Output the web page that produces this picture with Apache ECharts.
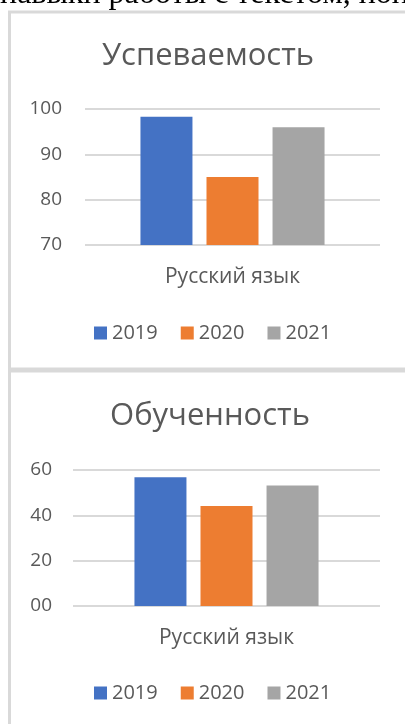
<!DOCTYPE html>
<html>
<head>
<meta charset="utf-8">
<script src="https://cdn.jsdelivr.net/npm/echarts@6/dist/echarts.min.js"></script>
<style>
  html, body { margin: 0; padding: 0; background: #fff; }
  #chart { width: 405px; height: 724px; }
</style>
</head>
<body>
<div id="chart"></div>
<script>
// данные
let categories = ['Русский язык']
let years = ['2019', '2020', '2021']
let colors = ['#4472C4', '#ED7D31', '#A5A5A5']
let uspevaemost = [98.3, 85.0, 96.0]
let obuchennost = [56.8, 44.1, 53.2]
let titles = ['Успеваемость', 'Обученность']
let topText = 'навыки работы с текстом, пон'

let font = '"Open Sans", "Noto Sans", sans-serif'
let gray = '#595959'

// серии для двух графиков
let makeSeries = function (values, index) {
  return years.map((name, i) => ({
    type: 'bar',
    name: name,
    xAxisIndex: index,
    yAxisIndex: index,
    barWidth: 52,
    barGap: '27%',
    itemStyle: { color: colors[i] },
    data: [values[i]]
  }))
}

let makeLegend = function (top) {
  return {
    data: years,
    left: 94,
    top: top,
    icon: 'rect',
    itemWidth: 13,
    itemHeight: 13,
    itemGap: 23,
    padding: 0,
    textStyle: { fontFamily: font, fontSize: 20, color: gray }
  }
}

let el = document.querySelector('#chart')
let chartInstance = echarts.init(el)

let option = {
  animation: false,
  textStyle: { fontFamily: font },
  graphic: [
    // обрезанная строка текста сверху
    {
      type: 'text', x: 0, y: 11,
      style: { text: topText, font: '32px "Liberation Serif", serif', fill: '#000', textVerticalAlign: 'bottom' }
    },
    // рамки
    { type: 'rect', shape: { x: 9.5, y: 12, width: 500, height: 357 }, style: { fill: 'none', stroke: '#d9d9d9', lineWidth: 3 } },
    { type: 'rect', shape: { x: 9.5, y: 371, width: 500, height: 400 }, style: { fill: 'none', stroke: '#d9d9d9', lineWidth: 3 } },
    // заголовки
    {
      type: 'text', x: 208, y: 56,
      style: { text: titles[0], font: '31px ' + font, fill: gray, textAlign: 'center', textVerticalAlign: 'middle' }
    },
    {
      type: 'text', x: 210, y: 416,
      style: { text: titles[1], font: '31px ' + font, fill: gray, textAlign: 'center', textVerticalAlign: 'middle' }
    }
  ],
  grid: [
    { left: 85, right: 25, top: 109, height: 136 },
    { left: 73, right: 25, top: 470, height: 136 }
  ],
  legend: [makeLegend(323), makeLegend(683)],
  xAxis: [0, 1].map(i => ({
    type: 'category',
    gridIndex: i,
    data: categories,
    axisLine: { show: false },
    axisTick: { show: false },
    axisLabel: { margin: 22, fontSize: 21, color: gray, fontFamily: font }
  })),
  yAxis: [
    {
      type: 'value', gridIndex: 0, min: 70, max: 100, interval: 10,
      axisLabel: { margin: 23, fontSize: 19, color: gray, fontFamily: font },
      splitLine: { lineStyle: { color: '#d9d9d9', width: 2 } }
    },
    {
      type: 'value', gridIndex: 1, min: 0, max: 60, interval: 20,
      axisLabel: {
        margin: 21, fontSize: 19, color: gray, fontFamily: font,
        formatter: v => (v === 0 ? '00' : String(v))
      },
      splitLine: { lineStyle: { color: '#d9d9d9', width: 2 } }
    }
  ],
  series: makeSeries(uspevaemost, 0).concat(makeSeries(obuchennost, 1))
}

chartInstance.setOption(option)
</script>
</body>
</html>
